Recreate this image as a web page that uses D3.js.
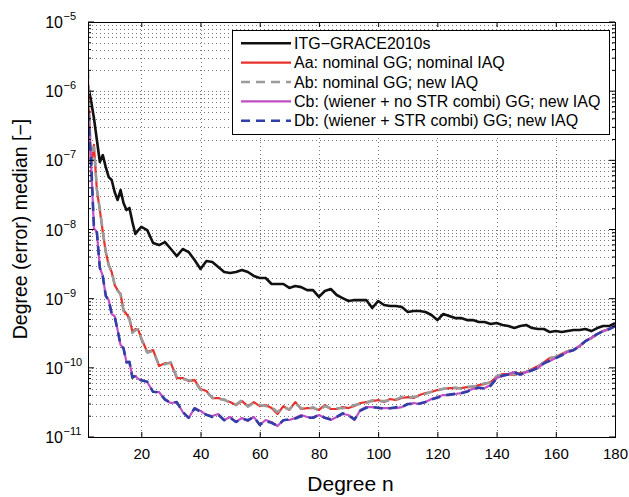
<!DOCTYPE html>
<html>
<head>
<meta charset="utf-8">
<script src="https://cdn.jsdelivr.net/npm/d3@7"></script>
<style>
  body { margin: 0; background: #fff; }
  text { font-family: "Liberation Sans", Arial, Helvetica, sans-serif; fill: #000; }
</style>
</head>
<body>
<div id="chart"></div>
<script>
// spherical harmonic degree n
var degrees = [2, 3, 4, 5, 6, 7, 8, 9, 10, 11, 12, 13, 14, 15, 16, 17, 18, 19, 20,
  22, 24, 26, 28, 30, 32, 34, 36, 38, 40, 42, 44, 46, 48, 50, 52, 54, 56, 58, 60,
  62, 64, 66, 68, 70, 72, 74, 76, 78, 80, 82, 84, 86, 88, 90, 92, 94, 96, 98, 100,
  102, 104, 106, 108, 110, 112, 114, 116, 118, 120, 122, 124, 126, 128, 130, 132, 134, 136, 138, 140,
  142, 144, 146, 148, 150, 152, 154, 156, 158, 160, 162, 164, 166, 168, 170, 172, 174, 176, 178, 180];

// ITG-GRACE2010s
var itg = [1.22e-6, 7.4e-7, 4.1e-7, 1.97e-7, 9.46e-8, 1.19e-7, 7.99e-8, 5.73e-8, 5.19e-8, 3.48e-8,
  2.67e-8, 3.72e-8, 2.41e-8, 1.91e-8, 2.05e-8, 1.28e-8, 8.62e-9, 9.8e-9, 1.09e-8,
  9.8e-9, 6.37e-9, 5.95e-9, 6.58e-9, 5.22e-9, 4.13e-9, 5.22e-9, 4.72e-9, 3.62e-9, 2.69e-9,
  3.5e-9, 3.39e-9, 2.87e-9, 2.43e-9, 2.35e-9, 2.43e-9, 2.6e-9, 2.43e-9, 2.13e-9, 1.99e-9,
  1.99e-9, 1.63e-9, 1.63e-9, 1.63e-9, 1.43e-9, 1.52e-9, 1.47e-9, 1.33e-9, 1.33e-9, 1.06e-9,
  1.29e-9, 1.38e-9, 1.13e-9, 1.02e-9, 9.25e-10, 9.54e-10, 9.54e-10, 9.54e-10, 7.33e-10, 9.25e-10,
  8.1e-10, 7.83e-10, 7.83e-10, 7.57e-10, 6.41e-10, 6.63e-10, 6.63e-10, 6.41e-10, 5.8e-10, 4.9e-10,
  6.0e-10, 5.6e-10, 5.24e-10, 5.24e-10, 4.9e-10, 4.9e-10, 4.59e-10, 4.59e-10, 4.3e-10, 4.44e-10,
  4.16e-10, 4.02e-10, 3.76e-10, 4.02e-10, 4.16e-10, 3.76e-10, 3.64e-10, 3.64e-10, 3.29e-10, 3.4e-10,
  3.29e-10, 3.4e-10, 3.52e-10, 3.52e-10, 3.64e-10, 3.4e-10, 3.76e-10, 4.02e-10, 4.02e-10, 4.44e-10];

// Aa: nominal GG; nominal IAQ
var aa = [1.45e-6, 8.6e-8, 1.67e-7, 3.7e-8, 1.91e-8, 9.2e-9, 4.72e-9, 3.07e-9, 2.43e-9, 1.58e-9,
  1.33e-9, 1.17e-9, 6.84e-10, 6.0e-10, 5.24e-10, 3.29e-10, 3.64e-10, 3.52e-10, 2.7e-10,
  1.69e-10, 1.81e-10, 1.06e-10, 1.17e-10, 1.17e-10, 7.11e-11, 7.11e-11, 6.44e-11, 6.65e-11, 4.94e-11,
  4.62e-11, 3.66e-11, 3.66e-11, 3.42e-11, 3.2e-11, 2.9e-11, 3.31e-11, 2.8e-11, 3.2e-11, 2.8e-11,
  2.9e-11, 2.62e-11, 2.15e-11, 2.8e-11, 2.46e-11, 3.2e-11, 2.54e-11, 2.62e-11, 2.62e-11, 2.46e-11,
  2.9e-11, 2.54e-11, 2.54e-11, 2.71e-11, 2.62e-11, 2.8e-11, 3.1e-11, 3.2e-11, 3.31e-11, 3.42e-11,
  3.2e-11, 3.54e-11, 3.42e-11, 3.66e-11, 3.78e-11, 3.66e-11, 4.04e-11, 4.32e-11, 4.47e-11, 4.77e-11,
  4.94e-11, 5.1e-11, 5.1e-11, 5.1e-11, 5.27e-11, 5.27e-11, 5.64e-11, 5.83e-11, 6.23e-11, 7.35e-11,
  8.12e-11, 8.12e-11, 7.86e-11, 8.4e-11, 8.68e-11, 9.59e-11, 1.06e-10, 1.21e-10, 1.39e-10, 1.43e-10,
  1.58e-10, 1.75e-10, 1.81e-10, 2.07e-10, 2.44e-10, 2.7e-10, 3.09e-10, 3.41e-10, 3.64e-10, 4.02e-10];

// Ab: nominal GG; new IAQ
var ab = [2.0e-6, 9.0e-8, 1.55e-7, 3.9e-8, 1.95e-8, 9.4e-9, 4.8e-9, 3.0e-9, 2.5e-9, 1.6e-9,
  1.3e-9, 1.15e-9, 6.6e-10, 5.8e-10, 5.0e-10, 3.2e-10, 3.5e-10, 3.6e-10, 2.6e-10,
  1.65e-10, 1.75e-10, 1.1e-10, 1.13e-10, 1.2e-10, 7.3e-11, 6.9e-11, 6.6e-11, 6.4e-11, 4.8e-11,
  4.5e-11, 3.7e-11, 3.5e-11, 3.5e-11, 3.1e-11, 2.95e-11, 3.4e-11, 2.75e-11, 3.1e-11, 2.9e-11,
  2.8e-11, 2.7e-11, 2.3e-11, 2.7e-11, 2.5e-11, 3.1e-11, 2.6e-11, 2.55e-11, 2.7e-11, 2.4e-11,
  2.8e-11, 2.6e-11, 2.6e-11, 2.6e-11, 2.7e-11, 2.9e-11, 3.0e-11, 3.1e-11, 3.4e-11, 3.3e-11,
  3.3e-11, 3.4e-11, 3.5e-11, 3.8e-11, 3.7e-11, 3.8e-11, 3.9e-11, 4.2e-11, 4.5e-11, 4.7e-11,
  5.0e-11, 5.0e-11, 5.2e-11, 5.0e-11, 5.3e-11, 5.4e-11, 5.5e-11, 6.0e-11, 6.1e-11, 7.6e-11,
  7.9e-11, 8.3e-11, 8.0e-11, 8.3e-11, 8.8e-11, 9.4e-11, 1.04e-10, 1.2e-10, 1.38e-10, 1.44e-10,
  1.56e-10, 1.74e-10, 1.83e-10, 2.05e-10, 2.42e-10, 2.68e-10, 3.05e-10, 3.38e-10, 3.6e-10, 4.0e-10];

// Cb: (wiener + no STR combi) GG; new IAQ
var cb = [4.84e-7, 1.01e-7, 1.05e-8, 9.2e-9, 2.78e-9, 2.13e-9, 1.09e-9, 9.54e-10, 6.0e-10, 5.6e-10,
  3.52e-10, 2.14e-10, 1.94e-10, 1.21e-10, 1.21e-10, 7.35e-11, 7.6e-11, 6.88e-11, 6.65e-11,
  6.23e-11, 4.47e-11, 4.47e-11, 3.42e-11, 3.1e-11, 3.2e-11, 2.3e-11, 1.88e-11, 2.62e-11, 2.38e-11,
  2.08e-11, 2.01e-11, 2.15e-11, 1.76e-11, 1.95e-11, 1.65e-11, 1.88e-11, 1.7e-11, 1.95e-11, 1.49e-11,
  1.76e-11, 1.65e-11, 1.44e-11, 1.76e-11, 1.76e-11, 1.88e-11, 2.08e-11, 1.95e-11, 1.88e-11, 2.08e-11,
  1.88e-11, 1.76e-11, 1.95e-11, 2.15e-11, 2.08e-11, 1.76e-11, 2.46e-11, 2.71e-11, 2.71e-11, 2.62e-11,
  2.62e-11, 2.62e-11, 2.62e-11, 2.71e-11, 3.0e-11, 3.1e-11, 3.0e-11, 3.2e-11, 3.54e-11, 3.78e-11,
  4.04e-11, 4.04e-11, 4.18e-11, 4.32e-11, 4.62e-11, 4.94e-11, 5.1e-11, 5.1e-11, 5.64e-11, 7.11e-11,
  7.6e-11, 8.12e-11, 8.68e-11, 7.86e-11, 8.68e-11, 9.28e-11, 9.91e-11, 1.17e-10, 1.26e-10, 1.39e-10,
  1.53e-10, 1.69e-10, 1.81e-10, 2.07e-10, 2.44e-10, 2.7e-10, 3.09e-10, 3.41e-10, 3.64e-10, 4.02e-10];

// Db: (wiener + STR combi) GG; new IAQ
var db = [5.0e-7, 1.05e-7, 1.1e-8, 9.0e-9, 2.8e-9, 2.1e-9, 1.1e-9, 9.4e-10, 6.1e-10, 5.5e-10,
  3.5e-10, 2.15e-10, 1.9e-10, 1.2e-10, 1.22e-10, 7.2e-11, 7.7e-11, 6.9e-11, 6.6e-11,
  6.3e-11, 4.5e-11, 4.4e-11, 3.5e-11, 3.1e-11, 3.2e-11, 2.3e-11, 1.9e-11, 2.6e-11, 2.3e-11,
  2.1e-11, 1.95e-11, 2.1e-11, 1.75e-11, 1.9e-11, 1.65e-11, 1.85e-11, 1.75e-11, 1.95e-11, 1.5e-11,
  1.7e-11, 1.6e-11, 1.45e-11, 1.75e-11, 1.8e-11, 1.85e-11, 2.0e-11, 1.9e-11, 1.9e-11, 2.1e-11,
  1.9e-11, 1.8e-11, 1.95e-11, 2.2e-11, 2.05e-11, 1.8e-11, 2.4e-11, 2.65e-11, 2.7e-11, 2.65e-11,
  2.55e-11, 2.6e-11, 2.7e-11, 2.7e-11, 3.0e-11, 3.0e-11, 3.05e-11, 3.2e-11, 3.5e-11, 3.7e-11,
  4.0e-11, 4.1e-11, 4.2e-11, 4.3e-11, 4.5e-11, 4.9e-11, 5.2e-11, 5.0e-11, 5.5e-11, 7.0e-11,
  7.7e-11, 8.0e-11, 8.6e-11, 8.0e-11, 8.6e-11, 9.2e-11, 1.0e-10, 1.16e-10, 1.27e-10, 1.38e-10,
  1.52e-10, 1.7e-10, 1.8e-10, 2.06e-10, 2.43e-10, 2.7e-10, 3.08e-10, 3.4e-10, 3.63e-10, 4.0e-10];

var xTicks = [20, 40, 60, 80, 100, 120, 140, 160, 180];
var yExponents = [-11, -10, -9, -8, -7, -6, -5];

var series = [
  {name: "ITG\u2212GRACE2010s", values: itg, color: "#111111", width: 2.6, dash: null},
  {name: "Aa: nominal GG; nominal IAQ", values: aa, color: "#e8322b", width: 2.2, dash: null},
  {name: "Ab: nominal GG; new IAQ", values: ab, color: "#9b9b9b", width: 2.6, dash: "9,6"},
  {name: "Cb: (wiener + no STR combi) GG; new IAQ", values: cb, color: "#c04fc4", width: 2.2, dash: null},
  {name: "Db: (wiener + STR combi) GG; new IAQ", values: db, color: "#2f3fa6", width: 2.6, dash: "9,6"}
];

var W = 629, H = 497;
var margin = {top: 22, right: 14, bottom: 60, left: 88};
var width = W - margin.left - margin.right,
    height = H - margin.top - margin.bottom;

var svg = d3.select("#chart").append("svg").attr("width", W).attr("height", H);
var g = svg.append("g").attr("transform", "translate(" + margin.left + "," + margin.top + ")");

var x = d3.scaleLinear().domain([2, 180]).range([0, width]);
var y = d3.scaleLog().domain([1e-11, 1e-5]).range([height, 0]);

// dotted grid
var grid = g.append("g").attr("class", "grid");
grid.selectAll("line.gy").data(y.ticks()).enter().append("line")
  .attr("x1", 0).attr("x2", width)
  .attr("y1", function(d) { return Math.round(y(d)) + 0.5; })
  .attr("y2", function(d) { return Math.round(y(d)) + 0.5; });
grid.selectAll("line.gx").data(xTicks).enter().append("line")
  .attr("y1", 0).attr("y2", height)
  .attr("x1", function(d) { return Math.round(x(d)) + 0.5; })
  .attr("x2", function(d) { return Math.round(x(d)) + 0.5; });
grid.selectAll("line").style("stroke", "#555").style("stroke-width", 0.8)
  .style("stroke-dasharray", "1,3");

// lines
g.append("clipPath").attr("id", "clip").append("rect").attr("width", width).attr("height", height);
var line = d3.line()
  .x(function(d, i) { return x(degrees[i]); })
  .y(function(d) { return y(d); });
series.forEach(function(s) {
  g.append("path").datum(s.values)
    .attr("clip-path", "url(#clip)")
    .attr("d", line)
    .style("fill", "none")
    .style("stroke", s.color)
    .style("stroke-width", s.width)
    .style("stroke-linejoin", "round")
    .style("stroke-dasharray", s.dash);
});

// axes box with inward ticks
g.append("rect").attr("x", 0.5).attr("y", 0.5).attr("width", width).attr("height", height)
  .style("fill", "none").style("stroke", "#000").style("stroke-width", 1);

var xAxis = d3.axisBottom(x).tickValues(xTicks).tickSize(-5).tickPadding(11).tickSizeOuter(0);
var xg = g.append("g").attr("transform", "translate(0," + height + ")").call(xAxis);
xg.select(".domain").remove();
xg.selectAll("text").style("font-size", "15px");
var xTop = g.append("g").call(d3.axisTop(x).tickValues(xTicks).tickSize(-5).tickFormat("").tickSizeOuter(0));
xTop.select(".domain").remove();

var majors = yExponents.map(function(e) { return Math.pow(10, e); });
var minors = y.ticks().filter(function(d) { return Math.abs(Math.log10(d) - Math.round(Math.log10(d))) > 1e-9; });
[[0, 1], [width, -1]].forEach(function(side) {
  g.selectAll(null).data(majors).enter().append("line")
    .attr("x1", side[0]).attr("x2", side[0] + side[1] * 6)
    .attr("y1", function(d) { return y(d); }).attr("y2", function(d) { return y(d); })
    .style("stroke", "#000");
  g.selectAll(null).data(minors).enter().append("line")
    .attr("x1", side[0]).attr("x2", side[0] + side[1] * 3)
    .attr("y1", function(d) { return y(d); }).attr("y2", function(d) { return y(d); })
    .style("stroke", "#000");
});

// y tick labels 10^k
var yl = g.append("g");
yExponents.forEach(function(e) {
  var yy = y(Math.pow(10, e));
  yl.append("text").attr("x", -25).attr("y", yy + 6).attr("text-anchor", "end")
    .style("font-size", "16px").text("10");
  yl.append("text").attr("x", -24.5).attr("y", yy - 2).attr("text-anchor", "start")
    .style("font-size", "11px").text("\u2212" + Math.abs(e));
});

// axis titles
svg.append("text").attr("x", margin.left + width / 2 - 1).attr("y", 491)
  .attr("text-anchor", "middle").style("font-size", "21px").text("Degree n");
svg.append("text").attr("transform", "translate(27," + 229 + ") rotate(-90)")
  .attr("text-anchor", "middle").style("font-size", "19.5px").text("Degree (error) median [\u2212]");

// legend
var legend = svg.append("g").attr("transform", "translate(232,30)");
legend.append("rect").attr("x", 0.5).attr("y", 0.5).attr("width", 377).attr("height", 104)
  .style("fill", "#fff").style("stroke", "#000").style("stroke-width", 1);
series.forEach(function(s, i) {
  var ly = 13.3 + i * 19.35;
  legend.append("line").attr("x1", 9).attr("x2", 59).attr("y1", ly).attr("y2", ly)
    .style("stroke", s.color).style("stroke-width", s.width)
    .style("stroke-dasharray", s.dash);
  legend.append("text").attr("x", 62).attr("y", ly + 5.5)
    .style("font-size", "16px").text(s.name);
});
</script>
</body>
</html>
